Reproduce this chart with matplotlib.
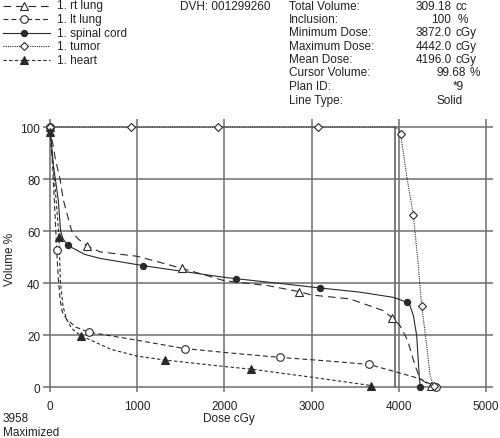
import matplotlib
matplotlib.use("Agg")
import matplotlib.pyplot as plt
from matplotlib.lines import Line2D

plt.rcParams['font.family'] = ['Liberation Sans', 'DejaVu Sans']
plt.rcParams['lines.scale_dashes'] = False

# ---------------- data ----------------
rt_lung_x = [0, 60, 115, 153, 249, 320, 428, 573, 1000, 1510, 2000, 2500, 2856, 3000, 3440, 3822, 3926, 4014, 4100, 4186, 4243, 4369]
rt_lung_y = [100, 88, 80, 72, 60, 57, 54.3, 52, 50.3, 45.7, 40.9, 39, 36.7, 35.4, 33.9, 29.4, 26.6, 23.6, 18, 8.3, 3.2, 0.4]
rt_lung_mx = [0, 428, 1510, 2856, 3926, 4369]
rt_lung_my = [100, 54.3, 45.7, 36.7, 26.6, 0.4]

lt_lung_x = [0, 30, 60, 77, 95, 115, 140, 191, 300, 447, 1000, 1544, 2100, 2641, 3200, 3658, 4000, 4243, 4427]
lt_lung_y = [100, 85, 65, 52.7, 42, 34, 29, 26, 23, 21.1, 18, 14.8, 13, 11.4, 10, 8.7, 5.5, 3.2, 0]
lt_lung_mx = [0, 77, 447, 1544, 2641, 3658, 4427]
lt_lung_my = [100, 52.7, 21.1, 14.8, 11.4, 8.7, 0]

cord_x = [0, 40, 70, 95, 122, 150, 203, 400, 573, 1067, 1500, 2000, 2129, 2600, 3100, 3555, 3937, 4090, 4128, 4167, 4205, 4236, 4247]
cord_y = [100, 85, 78, 72, 60, 57, 54.5, 51, 49.5, 46.7, 44.6, 42.2, 41.7, 40, 38.1, 36.5, 34.5, 32.7, 31.3, 27.5, 19.8, 3.2, 0.2]
cord_mx = [0, 203, 1067, 2129, 3100, 4090, 4247]
cord_my = [99.7, 54.5, 46.7, 41.7, 38.1, 32.7, 0.2]

tumor_x = [0, 3958, 4000, 4021, 4090, 4167, 4220, 4262, 4320, 4358, 4400]
tumor_y = [100, 100, 99, 97.2, 81.2, 66.1, 48, 31.3, 16, 4.5, 0.3]
tumor_mx = [0, 929, 1927, 3073, 4021, 4167, 4262, 4400]
tumor_my = [100, 100, 100, 100, 97.2, 66.1, 31.3, 0.3]

heart_x = [0, 50, 80, 103, 120, 150, 191, 250, 352, 700, 1000, 1315, 2000, 2305, 3000, 3678]
heart_y = [98, 80, 68, 57.8, 40, 31, 26, 22.5, 19.8, 14.5, 11.9, 10.4, 7.9, 6.9, 3.8, 0.6]
heart_mx = [0, 103, 352, 1315, 2305, 3678]
heart_my = [98, 57.8, 19.8, 10.4, 6.9, 0.6]

cursor_dose = 3958
x_ticks = [0, 1000, 2000, 3000, 4000, 5000]
y_ticks = [0, 20, 40, 60, 80, 100]

legend_labels = ["1. rt lung", "1. lt lung", "1. spinal cord", "1. tumor", "1. heart"]
info_labels = ["Total Volume:", "Inclusion:", "Minimum Dose:", "Maximum Dose:",
               "Mean Dose:", "Cursor Volume:", "Plan ID:", "Line Type:"]
info_values = ["309.18", "100", "3872.0", "4442.0", "4196.0", "99.68", "*9", "Solid"]
info_units = ["cc", "%", "cGy", "cGy", "cGy", "%", "", ""]
dvh_id = "DVH: 001299260"

# ---------------- styles ----------------
LC = '#2a2a2a'
GC = '#6e6e6e'
styles = [
    dict(ls=(0, (5.5, 3.5)), marker='^', mfc='white', ms=5.5),   # rt lung
    dict(ls=(0, (3.5, 2.2)), marker='o', mfc='white', ms=5.5),   # lt lung
    dict(ls='-', marker='o', mfc=LC, ms=4.5),                    # spinal cord
    dict(ls=(0, (0.8, 0.8)), marker='D', mfc='white', ms=3.8),   # tumor
    dict(ls=(0, (2.4, 1.7)), marker='^', mfc=LC, ms=5.5),        # heart
]
curves = [(rt_lung_x, rt_lung_y, rt_lung_mx, rt_lung_my),
          (lt_lung_x, lt_lung_y, lt_lung_mx, lt_lung_my),
          (cord_x, cord_y, cord_mx, cord_my),
          (tumor_x, tumor_y, tumor_mx, tumor_my),
          (heart_x, heart_y, heart_mx, heart_my)]

W, H = 500, 439
fig = plt.figure(figsize=(W / 100, H / 100), dpi=100)

# overlay in pixel coordinates for header text / legend
ov = fig.add_axes([0, 0, 1, 1])
ov.set_xlim(0, W)
ov.set_ylim(H, 0)
ov.axis('off')

FS = 8.5
leg_rows = [6.5, 20, 33.5, 47, 60.5]
for lab, st, yy in zip(legend_labels, styles, leg_rows):
    ov.add_line(Line2D([3, 50], [yy, yy], color=LC, lw=0.8, linestyle=st['ls']))
    ov.add_line(Line2D([24], [yy], color=LC, marker=st['marker'], mfc=st['mfc'],
                       mec=LC, ms=st['ms'], mew=0.8, linestyle='none'))
    ov.text(57, yy, lab, fontsize=FS, va='center', ha='left', color='#222222')

ov.text(180, 6.5, dvh_id, fontsize=FS, va='center', ha='left', color='#222222')

info_rows = [6.5, 19.8, 33.3, 46.7, 60, 73.5, 87.3, 100.7]
val_right = [452, 451, 452, 452, 452, 466, 464, 463]
unit_left = [456, 458, 456, 456, 456, 470, 0, 0]
for lab, val, unit, yy, vr, ul in zip(info_labels, info_values, info_units, info_rows, val_right, unit_left):
    ov.text(289, yy, lab, fontsize=FS, va='center', ha='left', color='#222222')
    ov.text(vr, yy, val, fontsize=FS, va='center', ha='right', color='#222222')
    if unit:
        ov.text(ul, yy, unit, fontsize=FS, va='center', ha='left', color='#222222')

ov.text(10, 259, "Volume %", fontsize=FS, rotation=90, va='center', ha='center', color='#222222')
ov.text(229, 419, "Dose cGy", fontsize=FS, va='center', ha='center', color='#222222')
ov.text(3, 419, "3958", fontsize=FS, va='center', ha='left', color='#222222')
ov.text(3, 433, "Maximized", fontsize=FS, va='center', ha='left', color='#222222')

# main plot axes
left_px, right_px, top_px, bot_px = 43, 493, 120, 393
ax = fig.add_axes([left_px / W, 1 - bot_px / H, (right_px - left_px) / W, (bot_px - top_px) / H])
ax.set_facecolor('none')
ax.set_xlim(-80, 5080)
ax.set_ylim(-1.9, 103.1)
for s in ax.spines.values():
    s.set_visible(False)
ax.set_xticks(x_ticks)
ax.set_yticks(y_ticks)
ax.tick_params(length=0, labelsize=FS, colors='#222222')
ax.tick_params(axis='x', pad=6)
ax.tick_params(axis='y', pad=2)
ax.grid(True, color=GC, lw=1.1)
ax.set_axisbelow(True)

ax.plot([cursor_dose, cursor_dose], [0, 100], color=GC, lw=1.3, zorder=1.5)

for (xs, ys, mx, my), st in zip(curves, styles):
    ax.plot(xs, ys, color=LC, lw=0.8, linestyle=st['ls'], zorder=2)
    ax.plot(mx, my, linestyle='none', marker=st['marker'], mfc=st['mfc'], mec=LC,
            ms=st['ms'], mew=0.8, zorder=3)

fig.savefig("out.png", dpi=100)
